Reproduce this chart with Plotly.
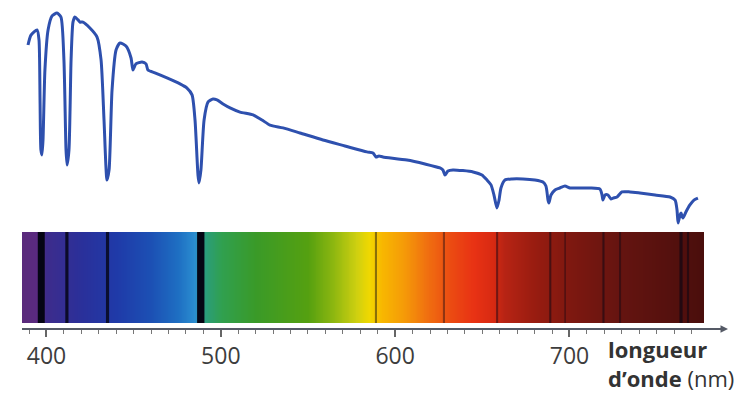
import numpy as np
import plotly.graph_objects as go

# ---- data ----
# absorption profile (relative flux vs wavelength, nm)
wavelength_nm = [389.4, 391.1, 394.6, 395.7, 396.3, 396.8, 397.4, 398.0, 399.1, 400.9,
                 403.2, 406.0, 408.3, 410.0, 411.2, 411.8, 412.9, 414.1, 415.2, 416.3,
                 418.1, 419.2, 420.9, 424.9, 429.0, 431.3, 433.0, 434.7, 435.9, 437.6,
                 439.9, 442.2, 445.6, 448.5, 449.6, 451.3, 454.8, 457.1, 458.2, 462.2,
                 469.1, 476.6, 480.6, 483.5, 485.2, 486.9, 487.5, 488.6, 490.4, 492.7,
                 495.5, 497.8, 501.3, 505.3, 511.0, 518.5, 523.6, 528.2, 535.7, 545.4,
                 558.6, 571.2, 583.8, 587.3, 589.0, 590.7, 593.0, 606.8, 617.1, 625.7,
                 627.4, 628.6, 630.3, 633.2, 644.7, 649.8, 652.7, 655.0, 656.7, 658.4,
                 659.6, 660.7, 663.0, 667.0, 673.3, 680.2, 684.8, 686.5, 687.7, 688.2,
                 689.4, 691.7, 694.5, 697.4, 700.3, 704.3, 711.8, 717.5, 718.7, 719.2,
                 720.4, 722.1, 723.8, 725.0, 727.3, 730.1, 734.7, 740.4, 749.1, 757.7,
                 760.6, 761.7, 762.3, 763.4, 764.0, 765.1, 766.8, 769.1, 771.4, 773.7]
flux = [0.841, 0.886, 0.909, 0.864, 0.591, 0.364, 0.341, 0.409, 0.727, 0.909,
        0.973, 0.986, 0.968, 0.773, 0.364, 0.295, 0.364, 0.773, 0.945, 0.968,
        0.955, 0.945, 0.945, 0.918, 0.877, 0.773, 0.500, 0.227, 0.273, 0.636,
        0.818, 0.850, 0.836, 0.782, 0.727, 0.755, 0.764, 0.755, 0.727, 0.714,
        0.691, 0.664, 0.645, 0.614, 0.500, 0.250, 0.214, 0.273, 0.500, 0.582,
        0.595, 0.591, 0.573, 0.555, 0.536, 0.523, 0.500, 0.477, 0.464, 0.441,
        0.409, 0.382, 0.355, 0.350, 0.332, 0.336, 0.332, 0.318, 0.300, 0.282,
        0.273, 0.250, 0.268, 0.273, 0.264, 0.250, 0.227, 0.205, 0.159, 0.100,
        0.136, 0.191, 0.227, 0.232, 0.232, 0.227, 0.218, 0.200, 0.136, 0.123,
        0.159, 0.182, 0.191, 0.200, 0.191, 0.191, 0.191, 0.186, 0.159, 0.136,
        0.159, 0.159, 0.141, 0.145, 0.150, 0.173, 0.173, 0.168, 0.159, 0.150,
        0.136, 0.091, 0.032, 0.068, 0.077, 0.055, 0.082, 0.114, 0.136, 0.145]

# colour of the spectrum strip at given wavelengths
strip_nm = [386, 395, 400, 420, 440, 460, 475, 485, 490, 500, 520, 550, 565, 578,
            585, 592, 605, 618, 632, 645, 656, 662, 680, 700, 730, 778]
strip_colors = ["#5a2a7c", "#5a2a80", "#3d2c8c", "#2a309a", "#1f3aa8", "#1c50b4",
                "#1e6ec2", "#2a8cd0", "#2a9c80", "#30a050", "#3a9a28", "#55a010",
                "#90b810", "#d0d010", "#f0d800", "#f8b800", "#f59a08", "#f07010",
                "#eb4a12", "#e83214", "#d82a12", "#b82414", "#981c10", "#7e1810",
                "#641410", "#4a0e0c"]

# dark absorption lines in the strip: wavelength, width (nm), darkness
line_nm = [397.0, 411.7, 435.0, 488.5, 589.0, 628.0, 658.5, 689.0, 697.5, 719.5, 729.0, 764.0, 768.0]
line_width_nm = [4.0, 1.8, 1.8, 4.2, 1.2, 1.2, 1.2, 1.2, 1.0, 1.2, 1.2, 1.8, 1.2]
line_dark = [1.0, 0.85, 0.8, 1.0, 0.45, 0.4, 0.45, 0.5, 0.35, 0.5, 0.4, 0.6, 0.5]

major_ticks = [400, 450, 500, 550, 600, 650, 700, 750]
major_labels = ["400", "", "500", "", "600", "", "700", ""]
minor_ticks = list(range(390, 780, 10))

x_range = [385.95, 787.5]
strip_range = [386, 776.5]

# ---- figure ----
lo, hi = strip_range
colorscale = [[min(1.0, (w - lo) / (hi - lo)), c] for w, c in zip(strip_nm, strip_colors)]
grid = np.linspace(lo, hi, 392)

fig = go.Figure()
fig.add_trace(go.Heatmap(
    x=grid, y=[0], z=[grid], zmin=lo, zmax=hi, colorscale=colorscale,
    zsmooth="best", showscale=False, hoverinfo="skip", xaxis="x", yaxis="y2"))

fig.add_trace(go.Scatter(
    x=wavelength_nm, y=flux, mode="lines",
    line=dict(color="#2e50ae", width=3, shape="spline", smoothing=0.6),
    hoverinfo="skip", xaxis="x", yaxis="y"))

shapes = []
for w, wd, d in zip(line_nm, line_width_nm, line_dark):
    shapes.append(dict(type="rect", xref="x", yref="y2 domain",
                       x0=w - wd / 2, x1=w + wd / 2, y0=0, y1=1,
                       fillcolor=f"rgba(5,5,20,{d})", line=dict(width=0), layer="above"))

fig.update_layout(
    width=745, height=400,
    margin=dict(l=22, r=23, t=0, b=0),
    paper_bgcolor="white", plot_bgcolor="rgba(0,0,0,0)",
    showlegend=False,
    shapes=shapes,
    xaxis=dict(range=x_range, anchor="free", position=0.1775,
               showgrid=False, zeroline=False,
               showline=True, linecolor="#555a66", linewidth=1.5,
               ticks="outside", ticklen=7, tickwidth=1.5, tickcolor="#666",
               tickmode="array", tickvals=major_ticks, ticktext=major_labels,
               tickfont=dict(family="Open Sans", size=23, color="#3d3d3d"),
               minor=dict(tickmode="array", tickvals=minor_ticks, ticks="outside",
                          ticklen=4, tickwidth=1.2, tickcolor="#777")),
    yaxis=dict(range=[-0.04, 1.04], domain=[0.403, 0.997], visible=False, fixedrange=True),
    yaxis2=dict(range=[-0.5, 0.5], domain=[0.1925, 0.42], visible=False),
    annotations=[
        dict(xref="paper", yref="paper", x=1.0086, y=0.1775, ax=-14, ay=0,
             showarrow=True, arrowhead=2, arrowsize=1, arrowwidth=1.5,
             arrowcolor="#555a66", text=""),
        dict(xref="paper", yref="paper", x=(606 - 22) / 700, y=(400 - 363) / 400,
             xanchor="left", yanchor="middle", showarrow=False, align="left",
             text="<b>longueur</b><br><b>d’onde</b> (nm)",
             font=dict(family="Open Sans", size=22, color="#333")),
    ],
)

fig.write_html("out.html", config={"displayModeBar": False},
               post_script="document.body.style.margin='0px';")
